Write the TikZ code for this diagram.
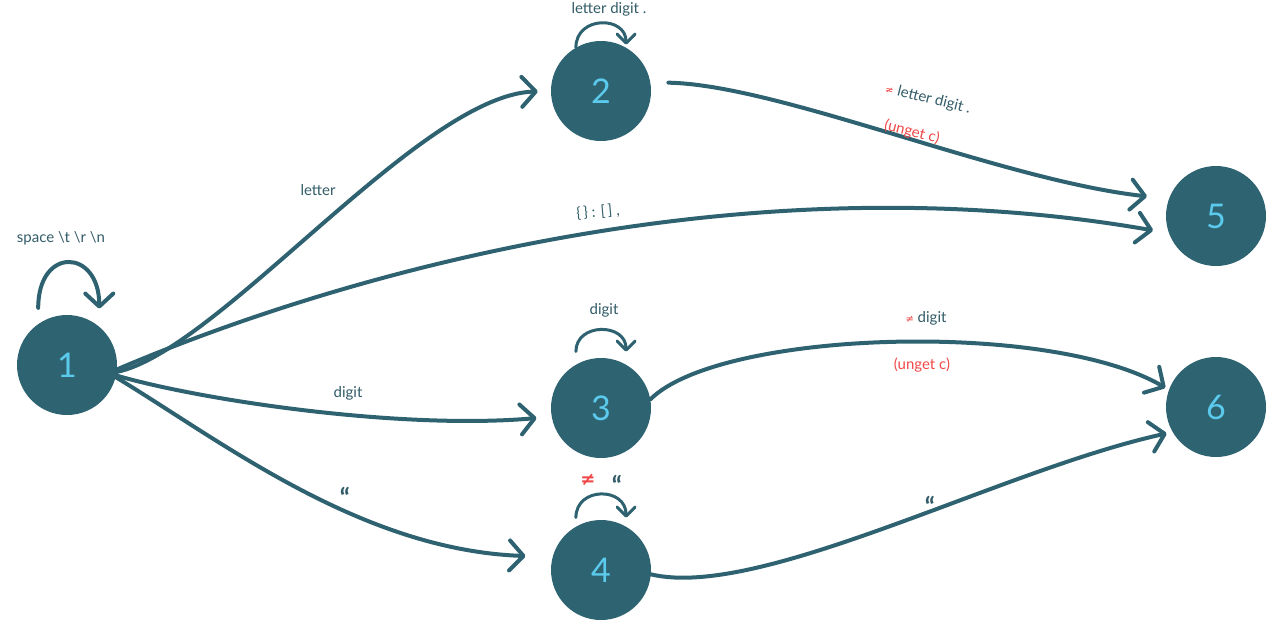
\documentclass[tikz,border=0pt]{standalone}
\usepackage{fontspec}
\setmainfont{Lato}
\newfontfamily\symf{DejaVu Sans}
\usetikzlibrary{arrows.meta}
\definecolor{nodefill}{RGB}{46,100,114}
\definecolor{numcol}{RGB}{92,202,236}
\definecolor{edgecol}{RGB}{46,98,112}
\definecolor{labcol}{RGB}{50,92,104}
\definecolor{redcol}{RGB}{240,72,72}
\tikzset{
  state/.style={circle, fill=nodefill, minimum size=100pt, inner sep=0pt,
    text=numcol, font=\fontsize{34}{36}\selectfont},
  conn/.style={draw=edgecol, line width=4pt, line cap=round,
    -{Straight Barb[length=14pt,width=30pt,round]}},
  selfloop/.style={draw=edgecol, line width=3pt, line cap=round,
    -{Straight Barb[length=9pt,width=18pt,round]}},
  biglooop/.style={draw=edgecol, line width=4pt, line cap=round,
    -{Straight Barb[length=13pt,width=28pt,round]}},
  lab/.style={text=labcol, font=\fontsize{15}{17}\selectfont, inner sep=1pt},
  redlab/.style={text=redcol, font=\fontsize{15}{17}\selectfont, inner sep=1pt},
  quot/.style={text=labcol, font=\bfseries\fontsize{26}{28}\selectfont, inner sep=1pt},
}
\begin{document}
\begin{tikzpicture}[x=1pt,y=-1pt]
\useasboundingbox (0,0) rectangle (1280,630);
% states
\node[state] (n1) at (67,365) {1};
\node[state] (n2) at (601,91) {2};
\node[state] (n3) at (601,408) {3};
\node[state] (n4) at (601,570) {4};
\node[state] (n5) at (1216,216) {5};
\node[state] (n6) at (1216,407) {6};
% self loops
\draw[biglooop, shorten <=16pt, shorten >=18pt] (n1.125) .. controls +(0,-78) and +(0,-78) .. (n1.50);
\draw[selfloop, shorten >=3pt] (n2.120) .. controls +(0,-32) and +(0,-32) .. (n2.60);
\draw[selfloop, shorten <=13pt, shorten >=13pt] (n3.120) .. controls +(0,-42) and +(0,-42) .. (n3.60);
\draw[selfloop, shorten <=9pt, shorten >=9pt] (n4.120) .. controls +(0,-40) and +(0,-40) .. (n4.60);
% transitions
\draw[conn, shorten >=13pt] (n1.-8) .. controls (220,350) and (420,95) .. (n2.west);
\draw[conn, shorten >=16pt] (n1.-5) .. controls (350,270) and (750,160) .. (n5.200);
\draw[conn, shorten >=15pt] (n1.-12) .. controls (200,400) and (400,430) .. (n3.190);
\draw[conn, shorten >=27pt] (n1.-14) .. controls (220,440) and (360,550) .. (n4.165);
\draw[conn, shorten <=18pt, shorten >=22pt] (n2.10) .. controls (780,85) and (1000,180) .. (n5.160);
\draw[conn, shorten >=4pt] (n3.10) .. controls (720,330) and (1050,320) .. (n6.160);
\draw[conn, shorten >=6pt] (n4.-5) .. controls (760,600) and (1000,470) .. (n6.210);
% labels
\node[lab] (l1) at (61,238) {space \textbackslash t \textbackslash r \textbackslash n};
\node[lab] (l2) at (609,9) {letter digit .};
\node[lab] (l3) at (318,190) {letter};
\node[lab, rotate=5] (l4) at (598,212) {\{\,\} : [\,] ,};
\node[lab, rotate=-14, inner sep=0pt] (l5) at (928,99) {\textcolor{redcol}{\symf\fontsize{10}{12}\selectfont ≠} letter digit .};
\node[redlab, rotate=-14, inner sep=0pt] (l6) at (912,132) {(unget c)};
\node[lab] (l7) at (604,310) {digit};
\node[lab] (l8) at (926,318) {\textcolor{redcol}{\symf\fontsize{10}{12}\selectfont ≠} digit};
\node[redlab] (l9) at (922,365) {(unget c)};
\node[lab] (l10) at (348,393) {digit};
\node[quot] (l11) at (345,497) {“};
\node[text=redcol, font=\symf\bfseries\fontsize{18}{20}\selectfont] (l12) at (588,480) {≠};
\node[quot] (l13) at (617,485) {“};
\node[quot] (l14) at (930,506) {“};
\end{tikzpicture}
\end{document}
